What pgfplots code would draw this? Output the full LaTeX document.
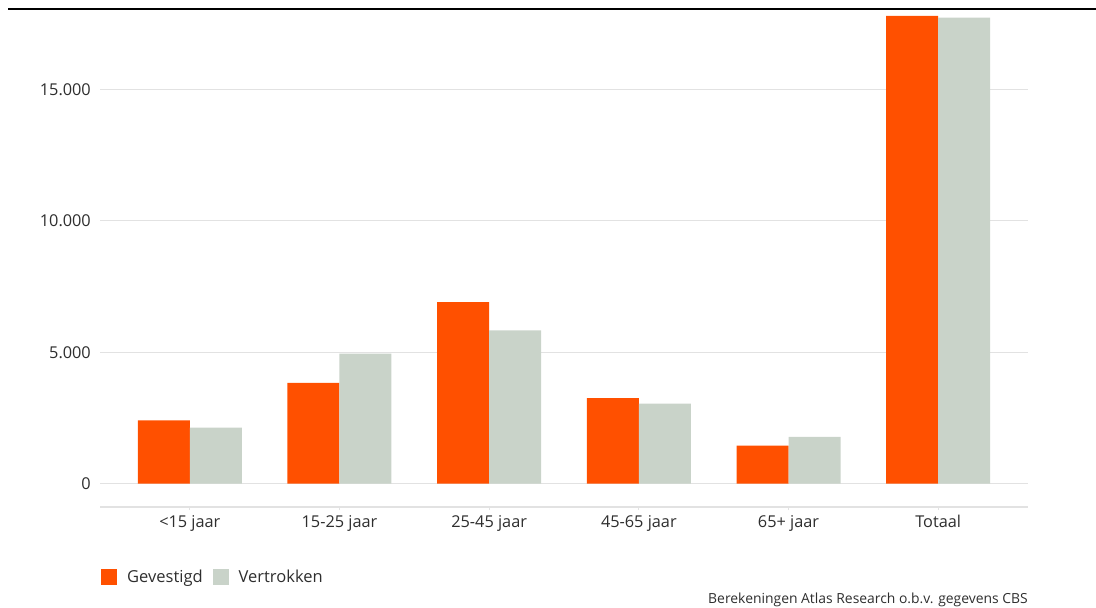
\documentclass[border=0pt]{standalone}
\usepackage{pgfplots}
\pgfplotsset{compat=1.18}
\usepackage{fontspec}
\setmainfont{Open Sans}
\definecolor{orng}{HTML}{FF5000}
\definecolor{grn}{HTML}{C9D3C9}
\definecolor{txt}{HTML}{2E2E2E}
\definecolor{gridc}{HTML}{E2E2E2}
\begin{document}
\begin{tikzpicture}[x=1pt,y=1pt]
\path[use as bounding box] (0,0) rectangle (1096,608);
\draw[line width=2.6pt,black] (8,599) -- (1096,599);
\begin{axis}[
  at={(100pt,101pt)}, anchor=south west,
  scale only axis, width=928pt, height=496.5pt,
  xmin=-0.6, xmax=5.6, ymin=-886, ymax=18000,
  axis x line*=bottom, axis y line*=left,
  x axis line style={draw=gridc, line width=1.2pt, -},
  y axis line style={draw=none},
  ybar=0pt, bar width=52pt,
  xtick={0,1,2,3,4,5},
  xticklabels={<15 jaar,15-25 jaar,25-45 jaar,45-65 jaar,65+ jaar,Totaal},
  ytick={0,5000,10000,15000},
  ymajorgrids, grid style={draw=gridc, line width=1.2pt},
  y tick style={draw=none},
  x tick style={draw=gridc, line width=1pt},
  tick align=outside, major tick length=3.5pt,
  /pgf/number format/assume math mode=true,
  /pgf/number format/1000 sep={.},
  scaled y ticks=false,
  tick label style={font=\fontsize{16.3}{19}\selectfont, text=txt},
  xticklabel style={inner sep=0pt, text height=11.5pt, text depth=3.5pt, yshift=-5pt},
  yticklabel style={inner sep=0pt, xshift=-5.5pt},
  legend style={at={(1pt,-70pt)}, anchor=west, draw=none, fill=none,
    font=\fontsize{16.5}{19}\selectfont, text=txt, legend columns=2,
    inner sep=0pt, nodes={inner sep=0pt},
    /tikz/every odd column/.append style={column sep=10pt},
    /tikz/every even column/.append style={column sep=10pt}},
  legend image code/.code={\fill[#1] (0pt,-8pt) rectangle (16pt,8pt);},
  legend cell align=left,
]
\addplot[fill=orng, draw=none] coordinates {(0,2405) (1,3832) (2,6908) (3,3260) (4,1450) (5,17800)};
\addplot[fill=grn, draw=none] coordinates {(0,2137) (1,4950) (2,5829) (3,3042) (4,1782) (5,17725)};
\legend{Gevestigd,Vertrokken}
\end{axis}
\node[anchor=base east, font=\fontsize{13.9}{16}\selectfont, text=txt, inner sep=0pt] at (1028,4.5) {Berekeningen Atlas Research o.b.v. gegevens CBS};
\end{tikzpicture}
\end{document}
